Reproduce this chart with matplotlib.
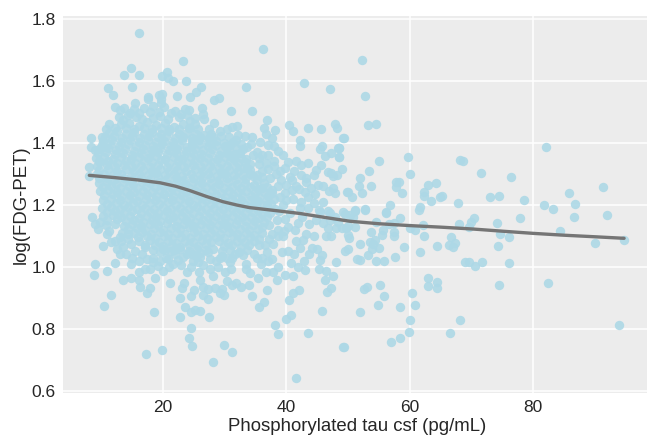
import matplotlib
matplotlib.use("Agg")
import matplotlib.pyplot as plt
import numpy as np

# points, (tau, fdg)
upper_left = [(16.1,1.753),(36.2,1.703),(23.2,1.663),(14.8,1.642),(13.6,1.619),(16.1,1.619),(20.6,1.627),(19.8,1.617),(20.8,1.609),(21.6,1.599),
    (23.7,1.598),(42.9,1.594),(47.1,1.575),(33.5,1.581),(11.0,1.577),(11.8,1.555),(15.0,1.581),(26.2,1.581),(25.3,1.563),(24.3,1.547),
    (22.2,1.551),(19.8,1.557),(19.3,1.555),(17.5,1.547),(17.5,1.54),(19.7,1.542),(19.7,1.53),(29.1,1.543),(28.2,1.538),(15.4,1.527),
    (31.0,1.502),(34.4,1.501),(23.5,1.51),(24.2,1.506),(26.3,1.511),(26.5,1.492),(26.6,1.478),(12.2,1.514),(13.6,1.511),(12.9,1.505),
    (14.6,1.497),(16.8,1.511),(17.8,1.5),(21.9,1.503),(21.3,1.497),(36.8,1.475),(47.9,1.462),(48.2,1.447),(40.4,1.456),(41.0,1.438),
    (43.5,1.449),(45.6,1.444),(49.3,1.417),(36.4,1.448),(36.6,1.43),(38.1,1.441),(31.9,1.453),(31.2,1.451),(30.4,1.444),(28.3,1.463),
    (24.3,1.471),(25.2,1.461),(27.4,1.446),(8.2,1.417),(10.1,1.419),(11.2,1.462),(10.7,1.446),(32.2,1.425),(33.2,1.421),(34.4,1.418),
    (29.4,1.421),(37.6,1.417),(42.2,1.409),(42.2,1.39),(35.7,1.404),(34.2,1.396),(31.4,1.401),(37.0,1.394),(37.9,1.391),(38.6,1.375),
    (45.7,1.39),(45.5,1.381),(48.4,1.384),(48.6,1.382),(47.3,1.366),(46.2,1.358),(48.5,1.353),(8.2,1.387),(8.9,1.376),(9.9,1.382),
    (23.1,1.409),(24.6,1.405),(33.0,1.38),(32.4,1.366),(31.2,1.355),(33.5,1.348),(35.5,1.352),(35.5,1.333),(34.1,1.333),(38.0,1.342),
    (40.2,1.339),(39.7,1.319),(37.0,1.317),(38.0,1.325),(33.0,1.32),(8.0,1.322),(8.0,1.294),(9.5,1.341),(44.8,1.313),(44.5,1.297),
    (46.8,1.305),(47.2,1.303),(47.6,1.294),(48.2,1.295),(42.3,1.296),(40.6,1.29),(40.9,1.28),(43.1,1.273),(43.1,1.285),(39.1,1.28),
    (37.3,1.285),(36.0,1.29),(34.0,1.299),(45.1,1.263),(46.0,1.261),(44.0,1.253),(47.6,1.255),(46.9,1.245),(47.8,1.237),(49.9,1.24),
    (40.9,1.249),(39.7,1.239),(37.6,1.247),(36.1,1.253),(41.1,1.218),(43.5,1.226),(39.5,1.2),(36.8,1.2),(35.0,1.2),(42.2,1.19),
    (43.5,1.19),(45.3,1.183),(46.8,1.181),(49.1,1.178)]

lower_left = [(8.5,1.16),(8.9,1.139),(9.4,1.123),(9.8,1.144),(10.2,1.066),(8.9,1.01),(8.8,.975),(10.9,.986),(12.2,1.012),(11.5,1.081),
    (12.2,1.083),(12.9,1.096),(13.2,1.083),(12.5,1.058),(12.9,1.04),(13.4,.958),(14.8,.963),(14.8,1.008),(16.0,.956),(16.0,.983),
    (16.3,.935),(17.9,.931),(17.3,.916),(18.6,.965),(19.9,.986),(21.1,.949),(23.4,.949),(23.1,.933),(25.0,.924),(24.5,.906),
    (22.8,.9),(23.5,.872),(24.5,.854),(25.2,.861),(26.0,.858),(22.8,.839),(27.5,.839),(24.5,.803),(24.1,.772),(24.7,.746),
    (29.8,.749),(31.1,.726),(28.0,.694),(19.8,.733),(17.2,.72),(10.4,.874),(11.5,.91),(18.5,.853),(41.5,.643),(49.4,.741),
    (43.5,.786),(38.6,.782),(38.2,.812),(40.0,.832),(40.7,.846),(45.8,.858),(35.6,.869),(36.3,.888),(34.4,.905),(36.8,.924),
    (40.4,.894),(41.0,.914),(42.1,.925),(46.6,.918),(47.3,.931),(46.2,.956),(47.6,.972),(46.4,.988),(45.2,.994),(45.5,1.023),
    (48.0,1.017),(45.8,1.037),(43.0,.991),(41.8,.999),(41.0,.969),(39.8,.974),(40.8,1.013),(38.4,.958),(39.3,1.049),(40.2,1.052),
    (43.7,1.042),(44.9,1.056),(44.1,1.061),(44.4,1.098),(46.4,1.098),(42.7,1.085),(41.5,1.083),(46.8,1.126),(48.0,1.125),(49.6,1.126),
    (43.7,1.137),(42.5,1.16),(45.4,1.177),(47.0,1.173),(37.8,1.074),(38.6,1.101),(39.4,1.098),(40.2,1.13),(33.9,.942),(35.4,.965),
    (32.7,.934),(31.8,.947),(31.2,.94),(30.3,.953),(31.0,.994),(30.1,.983),(29.9,.91),(29.2,.915),(29.5,.929),(28.4,.932),
    (27.3,.896),(26.5,.908),(27.3,.929),(26.4,.934),(26.0,.956),(28.1,.969),(27.6,.994),(25.8,.983),(23.9,.983),(21.0,.999),
    (19.1,1.004),(17.8,.994),(17.0,.994),(33.5,.994),(34.0,.98),(36.7,.983),(37.8,.983),(38.6,.999),(35.8,1.01),(37.0,1.02),
    (37.6,1.026),(36.8,1.047),(34.8,1.042),(33.0,1.037),(33.5,1.01),(28.1,1.058),(28.5,1.02),(27.6,1.026),(26.0,1.033),(24.9,1.02),
    (23.2,1.031),(22.4,1.023),(21.7,1.053),(20.3,1.053),(19.5,1.047),(20.8,1.026),(17.3,1.026),(16.0,1.02),(15.4,1.051),(17.0,1.063),
    (14.7,1.074),(14.3,1.106)]

upper_right = [(52.3,1.667),(52.8,1.552),(53.3,1.459),(54.6,1.461),(49.2,1.417),(48.6,1.382),(48.6,1.353),(82.1,1.387),(59.8,1.355),(55.1,1.34),
    (68.2,1.346),(68.6,1.34),(71.6,1.303),(76.5,1.289),(53.4,1.308),(51.9,1.286),(51.8,1.26),(53.8,1.261),(60.0,1.301),(57.7,1.272),
    (58.2,1.272),(57.7,1.258),(58.8,1.237),(62.9,1.265),(64.2,1.271),(62.4,1.241),(62.3,1.23),(63.4,1.211),(64.9,1.226),(65.2,1.227),
    (67.9,1.206),(73.0,1.224),(74.5,1.228),(78.5,1.215),(85.9,1.238),(91.3,1.257),(86.8,1.204),(81.8,1.198),(83.3,1.188),(50.0,1.241),
    (50.7,1.225),(52.3,1.239),(56.8,1.201),(61.7,1.194),(61.5,1.183),(51.2,1.183),(52.8,1.186),(56.2,1.177)]

lower_right = [(52.8,1.184),(51.2,1.18),(50.8,1.162),(49.5,1.171),(50.3,1.166),(56.2,1.174),(58.4,1.156),(54.5,1.145),(56.6,1.139),(57.5,1.141),
    (51.2,1.13),(50.0,1.133),(49.0,1.126),(53.8,1.112),(55.7,1.119),(55.5,1.103),(57.5,1.112),(57.5,1.101),(50.0,1.103),(50.2,1.094),
    (51.9,1.075),(53.5,1.081),(54.3,1.087),(54.0,1.074),(50.0,1.058),(53.9,1.056),(55.0,1.06),(53.2,1.037),(51.5,1.026),(51.9,1.022),
    (54.5,1.02),(55.8,1.02),(57.6,1.031),(59.1,1.063),(61.7,1.048),(62.4,1.098),(60.9,1.12),(60.0,1.125),(62.1,1.135),(64.5,1.067),
    (66.7,1.096),(67.4,1.078),(66.4,1.07),(67.1,1.063),(68.0,1.137),(69.9,1.144),(69.7,1.13),(70.5,1.157),(74.2,1.141),(77.9,1.158),
    (74.6,1.106),(76.1,1.096),(74.3,1.066),(84.4,1.115),(86.6,1.16),(92.1,1.168),(90.0,1.076),(94.8,1.087),(68.9,1.015),(69.6,1.014),
    (70.6,1.004),(71.8,1.017),(76.2,1.013),(62.9,.965),(64.4,.952),(62.9,.939),(64.4,.931),(74.5,.942),(82.5,.948),(55.2,.942),
    (53.0,.935),(52.6,.929),(55.8,.906),(60.3,.914),(54.8,.877),(58.4,.872),(60.8,.876),(51.9,.853),(60.0,.829),(68.1,.829),
    (59.9,.789),(66.5,.785),(93.9,.811),(58.5,.772),(57.0,.757),(49.2,.741)]

# the solid part of the cloud, single points can't be told apart here
core_top = [(13.2,1.46),(14.5,1.465),(16.1,1.455),(17.4,1.468),(18.9,1.457),(20.3,1.463),(21.7,1.452),(23.2,1.46),(24.4,1.449),
    (11.2,1.433),(12.5,1.438),(13.9,1.43),(15.3,1.436),(16.8,1.428),(18.2,1.434),(19.6,1.43),(21.0,1.437),(22.5,1.428),(23.9,1.432),(25.3,1.428),(26.6,1.425),
    (10.3,1.406),(11.7,1.41),(13.1,1.403),(14.6,1.408),(16.0,1.402),(17.5,1.41),(18.8,1.404),(20.2,1.407),(21.6,1.401),(23.8,1.385),(25.8,1.408),(27.2,1.403),(28.6,1.406),(29.8,1.4),
    (9.6,1.379),(11.0,1.382),(12.4,1.376),(13.8,1.381),(15.2,1.375),(16.7,1.38),(18.1,1.377),(19.5,1.383),(20.9,1.376),(22.3,1.38),(23.7,1.375),(25.1,1.381),(26.5,1.376),(27.9,1.38),(29.3,1.375),(30.7,1.378),
    (9.1,1.352),(10.4,1.355),(11.8,1.349),(13.2,1.354),(14.7,1.348),(16.1,1.353),(17.5,1.35),(18.9,1.356),(20.3,1.349),(21.7,1.353),(23.1,1.348),(24.5,1.354),(25.9,1.35),(27.3,1.352),(28.7,1.347),(30.1,1.353),(31.5,1.349),(32.7,1.35),
    (9.3,1.325),(10.8,1.328),(12.2,1.322),(13.6,1.327),(15.0,1.321),(16.4,1.326),(17.8,1.323),(19.2,1.329),(20.6,1.322),(22.0,1.326),(23.4,1.321),(24.8,1.327),(26.2,1.323),(27.6,1.325),(29.0,1.32),(30.4,1.326),(31.8,1.322),(33.6,1.318),
    (9.2,1.298),(10.4,1.301),(11.8,1.295),(13.2,1.3),(14.7,1.294),(16.1,1.299),(17.5,1.296),(18.9,1.302),(20.3,1.295),(21.7,1.299),(23.1,1.294),(24.5,1.3),(25.9,1.296),(27.3,1.298),(28.7,1.293),(30.1,1.299),(31.5,1.295),(32.9,1.297),(34.6,1.293)]

core_mid = [(9.6,1.271),(10.9,1.274),(12.3,1.268),(13.7,1.273),(15.1,1.267),(16.5,1.272),(17.9,1.269),(19.3,1.275),(20.7,1.268),(22.1,1.272),(23.5,1.267),(24.9,1.273),(26.3,1.269),(27.7,1.271),(29.1,1.266),(30.5,1.272),(31.9,1.268),(33.3,1.27),(34.7,1.265),(36.4,1.269),
    (9.7,1.244),(11.1,1.247),(12.5,1.241),(13.9,1.246),(15.3,1.24),(16.7,1.245),(18.1,1.242),(19.5,1.248),(20.9,1.241),(22.3,1.245),(23.7,1.24),(25.1,1.246),(26.5,1.242),(27.9,1.244),(29.3,1.239),(30.7,1.245),(32.1,1.241),(33.5,1.243),(34.9,1.238),(36.3,1.242),(37.7,1.238),
    (10.2,1.217),(11.6,1.22),(13.0,1.214),(14.4,1.219),(15.8,1.213),(17.2,1.218),(18.6,1.215),(20.0,1.221),(21.4,1.214),(22.8,1.218),(24.2,1.213),(25.6,1.219),(27.0,1.215),(28.4,1.217),(29.8,1.212),(31.2,1.218),(32.6,1.214),(34.0,1.216),(35.4,1.211),(36.8,1.215),(38.0,1.218),
    (10.1,1.19),(11.5,1.193),(12.9,1.187),(14.3,1.192),(15.7,1.186),(17.1,1.191),(18.5,1.188),(19.9,1.194),(21.3,1.187),(22.7,1.191),(24.1,1.186),(25.5,1.192),(26.9,1.188),(28.3,1.19),(29.7,1.185),(31.1,1.191),(32.5,1.187),(33.9,1.189),(35.3,1.184),(36.7,1.188),(38.1,1.185),
    (10.3,1.163),(11.8,1.166),(13.2,1.16),(14.6,1.165),(16.0,1.159),(17.4,1.164),(18.8,1.161),(20.2,1.167),(21.6,1.16),(23.0,1.164),(24.4,1.159),(25.8,1.165),(27.2,1.161),(28.6,1.163),(30.0,1.158),(31.4,1.164),(32.8,1.16),(34.2,1.162),(35.6,1.157),(36.9,1.161)]

core_low = [(10.7,1.136),(12.2,1.139),(13.6,1.133),(15.0,1.138),(16.4,1.132),(17.8,1.137),(19.2,1.134),(20.6,1.14),(22.0,1.133),(23.4,1.137),(24.8,1.132),(26.2,1.138),(27.6,1.134),(29.0,1.136),(30.4,1.131),(31.8,1.137),(33.2,1.133),(34.6,1.135),(36.0,1.13),(37.1,1.134),
    (15.2,1.109),(16.6,1.112),(18.0,1.106),(19.4,1.111),(20.8,1.105),(22.2,1.11),(23.6,1.107),(25.0,1.113),(26.4,1.106),(27.8,1.11),(29.2,1.105),(30.6,1.111),(32.0,1.107),(33.4,1.109),(34.8,1.104),(36.0,1.108),
    (16.1,1.082),(17.9,1.085),(19.3,1.079),(20.7,1.084),(22.1,1.078),(23.5,1.083),(24.9,1.08),(26.3,1.086),(27.7,1.079),(29.1,1.083),(30.5,1.078),(31.9,1.084),(33.3,1.08),(34.7,1.082),
    (18.3,1.055),(19.9,1.058),(21.3,1.052),(22.7,1.057),(24.1,1.051),(25.5,1.056),(26.9,1.053),(29.5,1.05),(30.9,1.054),(32.3,1.049),(33.6,1.053),
    (20.5,1.028),(23.9,1.04),(25.3,1.036),(30.3,1.028),(31.1,1.03)]

# more of the same, these sit in the holes the rows above leave
fill_top = [(12.2,1.447),(13.9,1.449),(15.3,1.445),(16.8,1.448),(18.2,1.444),(19.6,1.449),(21.0,1.446),(22.6,1.444),(24.1,1.447),(25.7,1.443),
    (10.6,1.42),(12.0,1.423),(13.3,1.417),(14.9,1.421),(16.3,1.416),(17.7,1.422),(19.1,1.418),(20.5,1.423),(21.9,1.416),(23.2,1.42),(24.6,1.417),(26.0,1.42),(27.5,1.416),
    (10.1,1.393),(11.3,1.396),(12.8,1.391),(14.2,1.395),(15.6,1.39),(17.0,1.394),(18.4,1.391),(19.8,1.396),(21.2,1.39),(22.6,1.394),(24.6,1.392),(25.8,1.395),(27.2,1.39),(28.6,1.393),(30.0,1.389),(30.9,1.392),
    (9.4,1.366),(10.7,1.369),(12.1,1.363),(13.5,1.368),(14.9,1.362),(16.4,1.367),(17.8,1.364),(19.2,1.369),(20.6,1.363),(22.0,1.367),(23.4,1.362),(24.8,1.368),(26.2,1.364),(27.6,1.366),(29.0,1.361),(30.4,1.367),(31.7,1.363),
    (9.7,1.339),(11.1,1.342),(12.5,1.336),(13.9,1.341),(15.4,1.335),(16.8,1.34),(18.2,1.337),(19.6,1.343),(21.0,1.336),(22.4,1.34),(23.8,1.335),(25.2,1.341),(26.6,1.337),(28.0,1.339),(29.4,1.334),(30.8,1.34),(32.2,1.336),(33.2,1.338),
    (9.6,1.312),(11.1,1.315),(12.5,1.309),(13.9,1.314),(15.3,1.308),(16.7,1.313),(18.1,1.31),(19.5,1.316),(20.9,1.309),(22.3,1.313),(23.7,1.308),(25.1,1.314),(26.5,1.31),(27.9,1.312),(29.3,1.307),(30.7,1.313),(32.1,1.309),(34.0,1.311),
    (9.5,1.285),(10.8,1.288),(12.2,1.282),(13.6,1.287),(15.0,1.281),(16.4,1.286),(17.8,1.283),(19.2,1.289),(20.6,1.282),(22.0,1.286),(23.4,1.281),(24.8,1.287),(26.2,1.283),(27.6,1.285),(29.0,1.28),(30.4,1.286),(31.8,1.282),(33.2,1.284),(35.2,1.28)]

fill_mid = [(10.2,1.258),(11.6,1.261),(13.0,1.255),(14.4,1.26),(15.8,1.254),(17.2,1.259),(18.6,1.256),(20.0,1.262),(21.4,1.255),(22.8,1.259),(24.2,1.254),(25.6,1.26),(27.0,1.256),(28.4,1.258),(29.8,1.253),(31.2,1.259),(32.6,1.255),(34.0,1.257),(35.4,1.252),(36.9,1.256),
    (10.4,1.231),(11.8,1.234),(13.2,1.228),(14.6,1.233),(16.0,1.227),(17.4,1.232),(18.8,1.229),(20.2,1.235),(21.6,1.228),(23.0,1.232),(24.4,1.227),(25.8,1.233),(27.2,1.229),(28.6,1.231),(30.0,1.226),(31.4,1.232),(32.8,1.228),(34.2,1.23),(35.6,1.225),(37.0,1.229),
    (10.9,1.204),(12.3,1.207),(13.7,1.201),(15.1,1.206),(16.5,1.2),(17.9,1.205),(19.3,1.202),(20.7,1.208),(22.1,1.201),(23.5,1.205),(24.9,1.2),(26.3,1.206),(27.7,1.202),(29.1,1.204),(30.5,1.199),(31.9,1.205),(33.3,1.201),(34.7,1.203),(36.1,1.198),(37.5,1.202),
    (10.8,1.177),(12.2,1.18),(13.6,1.174),(15.0,1.179),(16.4,1.173),(17.8,1.178),(19.2,1.175),(20.6,1.181),(22.0,1.174),(23.4,1.178),(24.8,1.173),(26.2,1.179),(27.6,1.175),(29.0,1.177),(30.4,1.172),(31.8,1.178),(33.2,1.174),(34.6,1.176),(36.0,1.171),(37.3,1.175),
    (10.9,1.15),(12.5,1.153),(13.9,1.147),(15.3,1.152),(16.7,1.146),(18.1,1.151),(19.5,1.148),(20.9,1.154),(22.3,1.147),(23.7,1.151),(25.1,1.146),(26.5,1.152),(27.9,1.148),(29.3,1.15),(30.7,1.145),(32.1,1.151),(33.5,1.147),(34.9,1.149),(36.3,1.144)]

fill_low = [(14.2,1.123),(15.7,1.126),(17.1,1.12),(18.5,1.125),(19.9,1.119),(21.3,1.124),(22.7,1.121),(24.1,1.127),(25.5,1.12),(26.9,1.124),(28.3,1.119),(29.7,1.125),(31.1,1.121),(32.5,1.123),(33.9,1.118),(35.4,1.122),
    (15.9,1.096),(17.3,1.099),(18.7,1.093),(20.1,1.098),(21.5,1.092),(22.9,1.097),(24.3,1.094),(25.7,1.1),(27.1,1.093),(28.5,1.097),(29.9,1.092),(31.3,1.098),(32.7,1.094),(34.1,1.096),(35.5,1.091),
    (17.1,1.069),(18.6,1.072),(20.0,1.066),(21.4,1.071),(22.8,1.065),(24.2,1.07),(25.6,1.067),(27.0,1.073),(29.8,1.066),(31.2,1.07),(32.6,1.065),(33.9,1.069),
    (21.9,1.04),(24.6,1.042),(25.9,1.045),(27.2,1.047),(29.6,1.036),(31.6,1.04)]

# rim of the cloud, top, right and bottom
rim_top = [(12.8,1.482),(14.2,1.49),(15.6,1.484),(16.6,1.476),(18.3,1.48),(19.5,1.486),(20.7,1.478),(22.5,1.482),(23.9,1.49),(25.1,1.48),
    (13.5,1.473),(20.2,1.515),(18.4,1.519),(15.3,1.51),(16.1,1.495),(19.3,1.5),(22.9,1.492),(27.8,1.43),(29.2,1.437),(28.1,1.418),
    (30.7,1.42),(31.8,1.41),(32.6,1.395),(33.6,1.385),(32.0,1.38),(35.2,1.37),(36.1,1.36),(34.5,1.36)]

rim_right = [(36.6,1.335),(38.9,1.31),(36.1,1.31),(35.2,1.295),(38.3,1.3),(41.2,1.31),(41.6,1.26),(38.6,1.262),(39.9,1.265),(42.1,1.25),
    (43.0,1.24),(44.7,1.235),(38.9,1.225),(40.0,1.215),(42.3,1.21),(44.4,1.205),(46.0,1.21),(38.8,1.18),(40.5,1.175),(39.7,1.155),
    (41.8,1.14),(38.4,1.15),(38.6,1.12),(37.6,1.105),(39.6,1.115),(41.4,1.12),(44.8,1.15),(47.0,1.15),(48.4,1.145),(43.1,1.105),
    (37.2,1.09),(36.5,1.07),(35.5,1.07),(35.2,1.03),(36.0,1.03),(42.2,1.06),(41.3,1.04),(42.9,1.02),(47.3,1.1),(49.5,1.05),
    (47.8,1.16),(46.0,1.14),(37.0,1.36),(39.5,1.36),(41.5,1.34),(43.5,1.335),(45.6,1.33),(49.0,1.315),(42.4,1.33)]

rim_bottom = [(15.0,1.03),(14.0,1.04),(16.6,1.04),(18.3,1.03),(18.3,1.015),(19.5,1.02),(21.6,1.01),(22.9,1.005),(24.5,1.0),(26.5,1.005),
    (28.9,1.0),(30.8,1.015),(25.7,1.015),(29.2,1.03),(13.5,1.065),(14.3,1.09),(13.3,1.11),(11.2,1.115),(10.8,1.105)]

# fitted line
line_tau = [8, 12, 16, 19.5, 22, 24.3, 27, 29.7, 32, 34, 38.4, 42.2, 46, 50.3, 55, 60, 65, 70.2, 75, 80, 85, 90, 94.8]
line_fdg = [1.295, 1.288, 1.28, 1.271, 1.26, 1.246, 1.227, 1.21, 1.199, 1.191, 1.181, 1.172, 1.16, 1.147, 1.139, 1.133, 1.128, 1.122, 1.115, 1.108, 1.102, 1.097, 1.092]

y_ticks = [0.6, 0.8, 1.0, 1.2, 1.4, 1.6, 1.8]
x_ticks = [20, 40, 60, 80]

plt.rcParams['font.family'] = ['Liberation Sans', 'DejaVu Sans']

fig = plt.figure(figsize=(6.48, 4.37), dpi=100)
ax = fig.add_axes([62.7 / 648, 1 - 392.7 / 437, (647.5 - 62.7) / 648, (392.7 - 16) / 437])
ax.set_facecolor('#ececec')

points = np.array(upper_left + lower_left + upper_right + lower_right + core_top + core_mid + core_low
                  + fill_top + fill_mid + fill_low + rim_top + rim_right + rim_bottom)
ax.scatter(points[:, 0], points[:, 1], s=46, color='#add8e6', alpha=0.9, linewidths=0, zorder=3)
ax.plot(line_tau, line_fdg, color='#757575', lw=2.4, solid_capstyle='round', zorder=4)

ax.set_xlim(3.68, 98.6)
ax.set_ylim(0.594, 1.809)
ax.set_xticks(x_ticks)
ax.set_yticks(y_ticks)
ax.set_yticklabels(['0.6', '0.8', '1.0', '1.2', '1.4', '1.6', '1.8'])
ax.grid(color='white', lw=1.1, zorder=1)
ax.set_axisbelow(True)
ax.tick_params(length=0, labelsize=12.5, labelcolor='#262626', pad=5)
for s in ax.spines.values():
    s.set_visible(False)
ax.set_xlabel('Phosphorylated tau csf (pg/mL)', fontsize=13.4, color='#262626')
ax.xaxis.set_label_coords(0.504, -0.066)
ax.set_ylabel('log(FDG-PET)', fontsize=13.4, color='#262626', labelpad=1)

fig.savefig('out.png', dpi=100)
